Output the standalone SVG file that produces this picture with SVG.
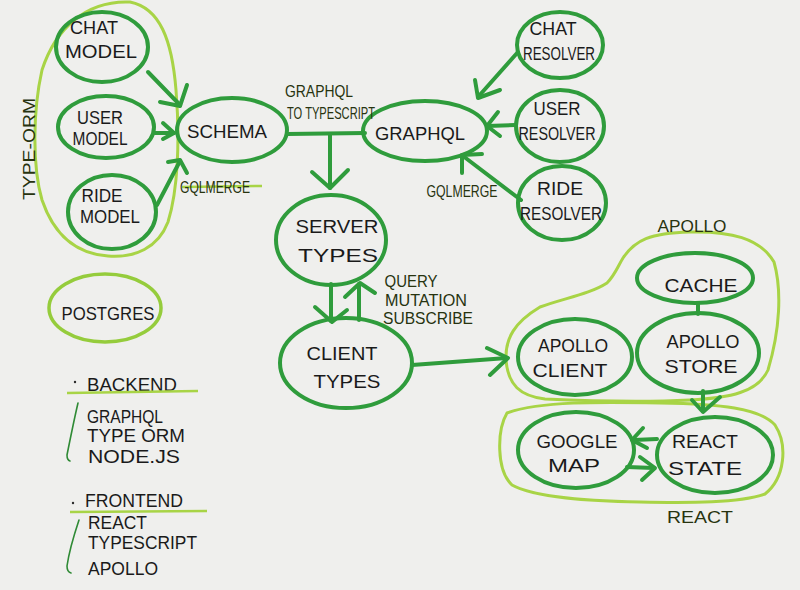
<svg xmlns="http://www.w3.org/2000/svg" width="800" height="590" viewBox="0 0 800 590">
<style>
.bg{fill:#efefed}
.n{fill:none;stroke:#2f9c3c;stroke-width:4}
.o{fill:none;stroke:#a8d446;stroke-width:3;stroke-linecap:round;stroke-linejoin:round}
.a{fill:none;stroke:#2f9c3c;stroke-width:4;stroke-linecap:round;stroke-linejoin:round}
.b{fill:none;stroke:#2f8a35;stroke-width:1.6;stroke-linecap:round}
.t{font-family:"Liberation Sans",Arial,sans-serif;font-size:19px;fill:#1a1a1a;text-anchor:middle}
.l{font-family:"Liberation Sans",Arial,sans-serif;font-size:17px;fill:#27330f;text-anchor:middle}
.g{font-family:"Liberation Sans",Arial,sans-serif;font-size:19px;fill:#1a1a1a;text-anchor:start}
</style>
<rect class="bg" x="0" y="0" width="800" height="590"/>

<!-- group outlines -->
<g id="typeorm-group">
<path class="o" d="M130,2 C160,8 172,40 176,90 C180,140 178,190 168,222 C158,248 135,258 108,256 C78,254 55,238 42,200 C32,165 33,110 42,70 C55,30 85,0 130,2 Z"/>
<text class="l" transform="translate(35,149) rotate(-90)" textLength="102" lengthAdjust="spacingAndGlyphs">TYPE-ORM</text>
</g>
<g id="apollo-group">
<path class="o" d="M623,258 C635,240 650,233 690,232 C730,231 760,238 774,262 C782,290 780,330 768,370 C758,392 730,398 690,400 C650,402 590,401 545,399 C520,396 508,385 506,360 C505,338 515,322 540,307 C565,298 590,294 607,283 C615,275 618,266 623,258 Z"/>
<text class="l" x="692" y="232" textLength="69" lengthAdjust="spacingAndGlyphs" font-size="21">APOLLO</text>
</g>
<g id="react-group">
<path class="o" d="M507,413 C540,401 600,402 660,403 C720,404 760,408 775,425 C788,445 785,478 765,494 C740,503 690,503 640,502 C590,501 535,498 512,485 C496,470 497,430 507,413 Z"/>
<text class="l" x="700" y="523" textLength="66" lengthAdjust="spacingAndGlyphs" font-size="21">REACT</text>
</g>

<!-- nodes -->
<g id="chat-model"><ellipse class="n" cx="102" cy="47" rx="46" ry="35"/>
<text class="t" x="94" y="34" textLength="48" lengthAdjust="spacingAndGlyphs">CHAT</text>
<text class="t" x="101" y="58" textLength="72" lengthAdjust="spacingAndGlyphs">MODEL</text></g>
<g id="user-model"><ellipse class="n" cx="106" cy="127" rx="48" ry="31"/>
<text class="t" x="100" y="124" textLength="46" lengthAdjust="spacingAndGlyphs" font-size="18">USER</text>
<text class="t" x="100" y="145" textLength="55" lengthAdjust="spacingAndGlyphs" font-size="18">MODEL</text></g>
<g id="ride-model"><ellipse class="n" cx="112" cy="212" rx="44" ry="37"/>
<text class="t" x="102" y="202" textLength="41" lengthAdjust="spacingAndGlyphs" font-size="18">RIDE</text>
<text class="t" x="110" y="223" textLength="60" lengthAdjust="spacingAndGlyphs" font-size="18">MODEL</text></g>
<g id="postgres"><ellipse cx="105" cy="308" rx="56" ry="34" fill="none" stroke="#95cc3c" stroke-width="3.5"/>
<text class="t" x="108" y="320" textLength="93" lengthAdjust="spacingAndGlyphs" font-size="24">POSTGRES</text></g>
<g id="schema"><ellipse class="n" cx="232" cy="130" rx="55" ry="32"/>
<text class="t" x="227" y="138" textLength="80" lengthAdjust="spacingAndGlyphs" font-size="22">SCHEMA</text></g>
<g id="graphql"><ellipse class="n" cx="425" cy="131" rx="62" ry="30"/>
<text class="t" x="420" y="140" textLength="90" lengthAdjust="spacingAndGlyphs" font-size="24">GRAPHQL</text></g>
<g id="server-types"><ellipse class="n" cx="331" cy="240" rx="55" ry="45"/>
<text class="t" x="337" y="233" textLength="83" lengthAdjust="spacingAndGlyphs" font-size="23">SERVER</text>
<text class="t" x="338" y="262" textLength="80" lengthAdjust="spacingAndGlyphs" font-size="23">TYPES</text></g>
<g id="client-types"><ellipse class="n" cx="346" cy="363" rx="66" ry="45"/>
<text class="t" x="342" y="360" textLength="71" lengthAdjust="spacingAndGlyphs" font-size="22">CLIENT</text>
<text class="t" x="347" y="388" textLength="67" lengthAdjust="spacingAndGlyphs" font-size="24">TYPES</text></g>
<g id="chat-resolver"><ellipse class="n" cx="560" cy="45" rx="43" ry="33"/>
<text class="t" x="553" y="35" textLength="47" lengthAdjust="spacingAndGlyphs">CHAT</text>
<text class="t" x="559" y="60" textLength="72" lengthAdjust="spacingAndGlyphs">RESOLVER</text></g>
<g id="user-resolver"><ellipse class="n" cx="560" cy="126" rx="44" ry="36"/>
<text class="t" x="557" y="115" textLength="47" lengthAdjust="spacingAndGlyphs">USER</text>
<text class="t" x="557" y="140" textLength="77" lengthAdjust="spacingAndGlyphs">RESOLVER</text></g>
<g id="ride-resolver"><ellipse class="n" cx="562" cy="203" rx="44" ry="37"/>
<text class="t" x="560" y="195" textLength="46" lengthAdjust="spacingAndGlyphs">RIDE</text>
<text class="t" x="561" y="220" textLength="82" lengthAdjust="spacingAndGlyphs" font-size="21">RESOLVER</text></g>
<g id="cache"><ellipse class="n" cx="695" cy="278" rx="58" ry="25"/>
<text class="t" x="701" y="292" textLength="73" lengthAdjust="spacingAndGlyphs" font-size="22">CACHE</text></g>
<g id="apollo-store"><ellipse class="n" cx="698" cy="353" rx="61" ry="40"/>
<text class="t" x="703" y="348" textLength="73" lengthAdjust="spacingAndGlyphs" font-size="21">APOLLO</text>
<text class="t" x="701" y="373" textLength="73" lengthAdjust="spacingAndGlyphs" font-size="22">STORE</text></g>
<g id="apollo-client"><ellipse class="n" cx="575" cy="357" rx="57" ry="38"/>
<text class="t" x="573" y="352" textLength="70" lengthAdjust="spacingAndGlyphs" font-size="21">APOLLO</text>
<text class="t" x="570" y="377" textLength="75" lengthAdjust="spacingAndGlyphs" font-size="21">CLIENT</text></g>
<g id="google-map"><ellipse class="n" cx="576" cy="450" rx="58" ry="38"/>
<text class="t" x="577" y="448" textLength="81" lengthAdjust="spacingAndGlyphs" font-size="22">GOOGLE</text>
<text class="t" x="574" y="472" textLength="52" lengthAdjust="spacingAndGlyphs" font-size="22">MAP</text></g>
<g id="react-state"><ellipse class="n" cx="715" cy="455" rx="58" ry="38"/>
<text class="t" x="705" y="448" textLength="66" lengthAdjust="spacingAndGlyphs" font-size="22">REACT</text>
<text class="t" x="705" y="475" textLength="74" lengthAdjust="spacingAndGlyphs" font-size="22">STATE</text></g>

<!-- connectors -->
<g id="connectors">
<path class="a" d="M148,72 L180,105"/><polyline class="a" points="160,102 180,106 187,85"/>
<path class="a" d="M155,133 L174,133"/><polyline class="a" points="163,123 174,133 163,139"/>
<path class="a" d="M157,205 L180,161"/><polyline class="a" points="168,162 180,160 187,173"/>
<path class="a" d="M287,134 L365,133"/>
<path class="a" d="M330,134 L330,188"/><polyline class="a" points="312,172 330,188 348,170"/>
<path class="a" d="M518,52 L478,97"/><polyline class="a" points="475,80 478,98 500,90"/>
<path class="a" d="M515,125 L487,126"/><polyline class="a" points="498,112 487,126 500,136"/>
<path class="a" d="M521,200 L463,156"/><polyline class="a" points="482,154 462,155 462,173"/>
<path class="a" d="M331,284 L331,321"/><polyline class="a" points="315,307 332,322 347,310"/>
<path class="a" d="M359,320 L359,284"/><polyline class="a" points="345,297 360,283 375,293"/>
<path class="a" d="M412,365 L507,358"/><polyline class="a" points="487,348 508,358 490,375"/>
<path class="a" d="M698,303 L698,314"/>
<path class="a" d="M703,391 L703,411"/><polyline class="a" points="692,400 703,412 720,397"/>
<path class="a" d="M657,439 L634,440"/><polyline class="a" points="643,428 632,440 647,448"/>
<path class="a" d="M627,467 L654,468"/><polyline class="a" points="640,457 655,468 642,480"/>
</g>

<!-- connector labels -->
<g id="labels">
<text class="l" x="319" y="97" textLength="68" lengthAdjust="spacingAndGlyphs">GRAPHQL</text>
<text class="l" x="331" y="119" textLength="88" lengthAdjust="spacingAndGlyphs">TO TYPESCRIPT</text>
<path d="M182,187 L262,186" stroke="#a8d446" stroke-width="2.5" fill="none"/>
<text class="l" x="215" y="193" textLength="70" lengthAdjust="spacingAndGlyphs" font-size="19">GQLMERGE</text>
<text class="l" x="462" y="197" textLength="71" lengthAdjust="spacingAndGlyphs" font-size="19">GQLMERGE</text>
<text class="l" x="411" y="287" textLength="53" lengthAdjust="spacingAndGlyphs" font-size="15">QUERY</text>
<text class="l" x="426" y="306" textLength="82" lengthAdjust="spacingAndGlyphs" font-size="15">MUTATION</text>
<text class="l" x="428" y="324" textLength="90" lengthAdjust="spacingAndGlyphs" font-size="16">SUBSCRIBE</text>
</g>

<!-- legend -->
<g id="legend">
<circle cx="75" cy="382" r="1.2" fill="#2a2a2a"/>
<text class="g" x="87" y="391" textLength="90" lengthAdjust="spacingAndGlyphs" font-size="22">BACKEND</text>
<path d="M67,393 L198,391" stroke="#a8d446" stroke-width="2.5" fill="none"/>
<path class="b" d="M78,403 C74,420 70,440 67,455 Q67,460 70,461"/>
<text class="g" x="87" y="423" textLength="76" lengthAdjust="spacingAndGlyphs" font-size="18">GRAPHQL</text>
<text class="g" x="87" y="442" textLength="98" lengthAdjust="spacingAndGlyphs" font-size="18">TYPE ORM</text>
<text class="g" x="88" y="463" textLength="92" lengthAdjust="spacingAndGlyphs">NODE.JS</text>
<circle cx="73" cy="503" r="1.2" fill="#2a2a2a"/>
<text class="g" x="85" y="507" textLength="98" lengthAdjust="spacingAndGlyphs" font-size="21">FRONTEND</text>
<path d="M70,512 L207,511" stroke="#a8d446" stroke-width="2.5" fill="none"/>
<path class="b" d="M79,520 C74,535 69,552 67,566 Q67,572 71,573"/>
<text class="g" x="88" y="529" textLength="59" lengthAdjust="spacingAndGlyphs" font-size="15">REACT</text>
<text class="g" x="88" y="549" textLength="109" lengthAdjust="spacingAndGlyphs" font-size="16">TYPESCRIPT</text>
<text class="g" x="88" y="575" textLength="70" lengthAdjust="spacingAndGlyphs">APOLLO</text>
</g>
</svg>
